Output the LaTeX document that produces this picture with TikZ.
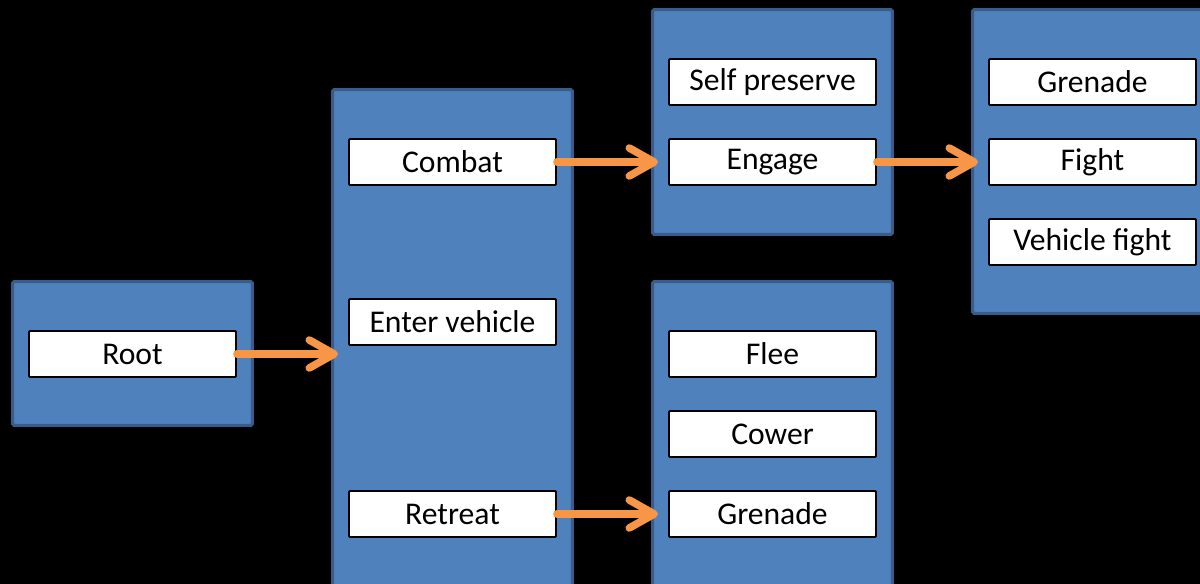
\documentclass[tikz,border=0pt]{standalone}
\usepackage{fontspec}
\setmainfont{Carlito}
\usetikzlibrary{arrows.meta}
\definecolor{panelblue}{HTML}{4F81BD}
\definecolor{paneledge}{HTML}{385D8A}
\definecolor{flowor}{HTML}{F79646}
\tikzset{
  panel/.style={draw=paneledge,fill=panelblue,line width=1.7pt,rounded corners=1pt,
    minimum width=4.8cm,inner sep=0pt},
  item/.style={draw=black,fill=white,line width=1.1pt,rounded corners=0.5pt,
    minimum width=4.14cm,minimum height=0.92cm,inner sep=0pt,
    font=\fontsize{18}{21}\selectfont},
  flow/.style={draw=flowor,line width=4.3pt,line cap=round,
    -{Straight Barb[length=0.5cm,width=0.56cm,line cap=round,line join=round]},
    shorten >=-0.14cm}
}

\begin{document}
\begin{tikzpicture}[x=0.02cm,y=-0.02cm]
\fill[black] (0,0) rectangle (1200,584);
\useasboundingbox (0,0) rectangle (1200,584);
\clip (0,0) rectangle (1200,584);
% panels
\node[panel,minimum height=2.88cm] (rootpanel) at (132.5,353.5) {};
\node[panel,minimum height=11.21cm] (modepanel) at (452.5,369.75) {};
\node[panel,minimum height=4.5cm] (combatpanel) at (772.5,122) {};
\node[panel,minimum height=7.37cm] (retreatpanel) at (772.5,465.75) {};
\node[panel,minimum height=6.08cm] (engagepanel) at (1092.5,161.5) {};
% behaviours
\node[item] (root) at (132.5,354) {Root};
\node[item] (combat) at (452.5,162) {Combat};
\node[item] (vehicle) at (452.5,322) {Enter vehicle};
\node[item] (retreat) at (452.5,514) {Retreat};
\node[item] (selfpres) at (772.5,82) {Self preserve};
\node[item] (engage) at (772.5,162) {Engage};
\node[item] (flee) at (772.5,354) {Flee};
\node[item] (cower) at (772.5,434) {Cower};
\node[item] (grenadeb) at (772.5,514) {Grenade};
\node[item] (grenadea) at (1092.5,82) {Grenade};
\node[item] (fight) at (1092.5,162) {Fight};
\node[item] (vfight) at (1092.5,242) {Vehicle fight};
% links
\draw[flow] (root.east) -- (root.east -| modepanel.west);
\draw[flow] (combat.east) -- (combat.east -| combatpanel.west);
\draw[flow] (retreat.east) -- (retreat.east -| retreatpanel.west);
\draw[flow] (engage.east) -- (engage.east -| engagepanel.west);
\end{tikzpicture}
\end{document}
